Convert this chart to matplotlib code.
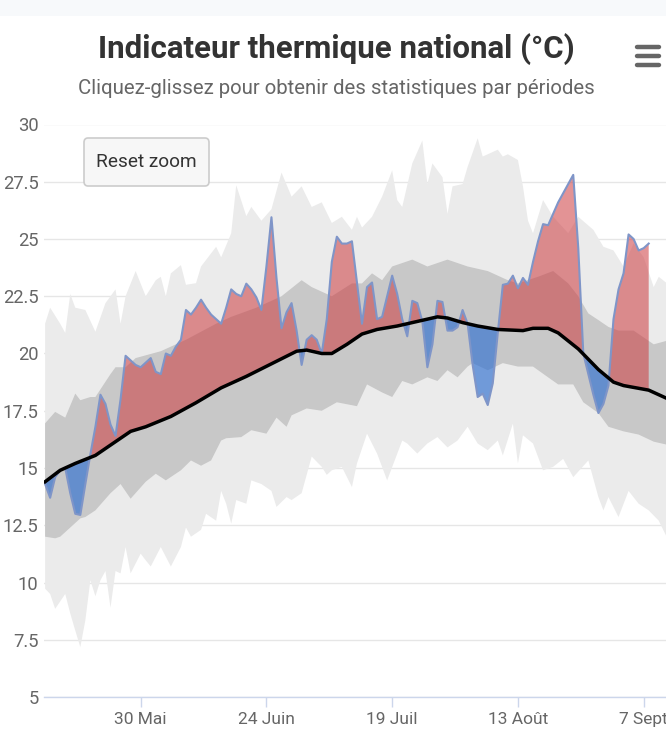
import numpy as np
import matplotlib.pyplot as plt
from matplotlib.patches import FancyBboxPatch, Rectangle

plt.rcParams['font.family'] = ['Roboto', 'DejaVu Sans']

# day 0 = 11 May
tick_days = [19, 44, 69, 94, 119]
tick_labels = ['30 Mai', '24 Juin', '19 Juil', '13 Août', '7 Sept']
y_ticks = [5, 7.5, 10, 12.5, 15, 17.5, 20, 22.5, 25, 27.5, 30]

# record max (upper edge of light band)
rmax_days = [0, 1, 3, 4, 5, 6, 8, 10, 12, 14, 15, 16, 18, 20, 22, 23, 24, 25, 27, 28,
             30, 31, 34, 35, 37, 38, 40, 41, 43, 45, 47, 49, 51, 53, 55, 57, 59, 61, 62, 63,
             65, 67, 69, 70, 71, 73, 75, 76, 77, 79, 80, 81, 83, 84, 86, 87, 88, 90, 91, 92,
             94, 95, 96, 97, 99, 101, 104, 106, 109, 111, 113, 115, 117, 119, 121, 122, 124]
rmax_vals = [21.3, 22.0, 21.3, 20.9, 22.6, 22.0, 21.9, 20.95, 22.2, 22.8, 21.3, 22.5, 23.6, 22.5,
             23.2, 23.35, 22.5, 23.5, 23.86, 23.0, 23.07, 23.8, 24.66, 24.2, 25.25, 27.35, 26.0,
             26.4, 25.8, 26.3, 27.9, 26.85, 27.3, 26.4, 26.6, 25.7, 25.97, 25.4, 25.97, 25.5,
             25.97, 26.85, 28.0, 26.7, 26.4, 28.3, 29.3, 27.4, 28.3, 27.7, 26.1, 27.3, 27.4,
             28.15, 29.4, 28.6, 28.7, 28.9, 28.6, 28.7, 28.45, 27.3, 25.8, 25.25, 26.7, 25.97,
             25.25, 25.97, 25.4, 24.66, 24.5, 23.8, 24.8, 24.2, 22.9, 23.35, 23.0]

# record min (lower edge of light band)
rmin_days = [0, 1, 2, 4, 5, 6, 7, 8, 9, 10, 11, 12, 13, 14, 15, 16, 17, 19, 20, 21, 23, 25,
             27, 28, 29, 31, 32, 34, 35, 36, 37, 38, 40, 41, 43, 45, 46, 48, 49, 51, 53, 55,
             56, 57, 59, 61, 62, 64, 66, 68, 71, 72, 74, 76, 78, 80, 82, 84, 86, 88, 90, 91,
             93, 94, 95, 97, 99, 101, 103, 105, 108, 110, 111, 112, 114, 116, 118, 120, 122, 124]
rmin_vals = [9.73, 9.5, 8.85, 9.5, 8.65, 7.9, 7.18, 8.35, 10.1, 9.4, 10.1, 10.5, 8.9, 10.5,
             10.4, 11.55, 10.4, 11.26, 10.97, 10.7, 11.55, 10.7, 11.55, 12.4, 12.0, 12.3, 13.0,
             12.7, 14.0, 13.44, 12.57, 13.6, 13.44, 14.46, 14.3, 14.0, 13.3, 13.73, 13.6, 13.9,
             15.5, 15.05, 14.7, 14.9, 15.05, 14.17, 15.2, 16.5, 15.63, 14.46, 16.2, 16.07,
             15.63, 16.07, 16.35, 15.9, 16.2, 16.8, 16.07, 15.78, 16.2, 15.55, 16.94, 15.2,
             16.43, 16.07, 14.9, 15.05, 15.4, 14.6, 15.33, 13.73, 13.15, 13.73, 12.86, 14.0,
             13.44, 13.15, 12.7, 11.8]

# upper quantile (dark band)
qhi_days = [0, 2, 4, 6, 7, 9, 10, 13, 14, 16, 18, 23, 28, 34, 37, 42, 47, 51, 53, 57, 61, 63,
            65, 67, 69, 73, 76, 80, 84, 88, 92, 94, 98, 101, 104, 106, 108, 110, 112, 114,
            117, 119, 121, 124]
qhi_vals = [16.95, 17.45, 17.2, 18.25, 17.96, 18.1, 18.1, 19.1, 19.4, 19.4, 19.8, 20.1, 20.6,
            21.3, 21.6, 22.0, 22.5, 23.2, 22.9, 22.5, 23.06, 23.06, 23.5, 23.2, 23.8, 24.1,
            23.8, 24.1, 23.8, 23.6, 23.2, 23.06, 23.35, 23.6, 23.06, 22.5, 21.75, 21.46,
            21.16, 21.0, 21.0, 20.7, 20.4, 20.58]

# lower quantile (dark band)
qlo_days = [0, 2, 3, 5, 7, 8, 10, 13, 15, 17, 20, 22, 24, 27, 29, 31, 33, 35, 36, 39, 41, 44,
            46, 48, 49, 52, 55, 58, 62, 64, 67, 69, 71, 73, 76, 78, 80, 82, 84, 85, 88, 91,
            94, 97, 100, 102, 105, 107, 110, 112, 115, 118, 121, 124]
qlo_vals = [12.0, 11.93, 12.0, 12.4, 12.8, 12.86, 13.15, 13.9, 14.3, 13.66, 14.4, 14.75, 14.46,
            14.9, 15.33, 15.1, 15.33, 16.2, 16.3, 16.35, 16.65, 16.5, 17.2, 16.8, 17.3, 17.6,
            17.5, 17.87, 17.7, 18.65, 18.3, 18.1, 18.8, 18.65, 18.96, 18.8, 19.27, 18.96,
            19.43, 19.58, 19.27, 19.58, 19.43, 19.43, 18.96, 18.65, 18.65, 17.87, 17.4, 16.8,
            16.6, 16.46, 16.15, 16.0]

# normal
norm_days = [0, 3, 6, 10, 13, 17, 20, 25, 30, 35, 40, 45, 50, 52, 55, 57, 60, 63, 66, 70, 75,
             78, 80, 83, 86, 90, 95, 97, 100, 102, 104, 106, 108, 110, 113, 115, 120, 124]
norm_vals = [14.4, 14.9, 15.2, 15.55, 16.0, 16.6, 16.8, 17.25, 17.85, 18.5, 19.0, 19.55, 20.1,
             20.15, 20.0, 20.0, 20.4, 20.85, 21.05, 21.2, 21.45, 21.6, 21.55, 21.35, 21.2,
             21.05, 21.0, 21.1, 21.1, 20.9, 20.55, 20.2, 19.75, 19.3, 18.75, 18.6, 18.4, 18.0]

# observed national thermal indicator, daily
obs_vals = [14.3, 13.7, 14.6, 14.9, 15.0, 13.9, 13.0, 12.95, 14.3, 15.6,
            16.8, 18.2, 17.8, 16.9, 16.4, 18.0, 19.9, 19.7, 19.5, 19.4,
            19.6, 19.8, 19.2, 19.1, 20.0, 19.9, 20.3, 20.6, 21.9, 21.7,
            22.0, 22.35, 22.0, 21.7, 21.5, 21.3, 22.0, 22.8, 22.6, 22.5,
            23.05, 22.8, 22.45, 21.9, 23.8, 25.95, 23.3, 21.1, 21.8, 22.2,
            21.0, 19.5, 20.6, 20.8, 20.6, 20.0, 21.5, 24.0, 25.1, 24.8,
            24.8, 24.9, 23.1, 21.3, 22.9, 23.1, 21.5, 21.6, 22.5, 23.4,
            22.6, 21.5, 20.75, 22.3, 22.2, 21.4, 19.4, 20.4, 22.3, 22.25,
            21.0, 21.0, 21.15, 21.9, 21.3, 19.5, 18.1, 18.25, 17.75, 18.7,
            20.9, 23.0, 23.05, 23.4, 22.85, 23.3, 23.0, 24.0, 24.9, 25.65,
            25.6, 26.1, 26.6, 27.0, 27.4, 27.8, 24.6, 20.0, 19.1, 18.2,
            17.4, 17.8, 18.6, 21.5, 22.8, 23.5, 25.2, 25.0, 24.5, 24.6, 24.8]
obs_days = np.arange(len(obs_vals))

fig = plt.figure(figsize=(6.66, 7.5), dpi=100)
fig.patch.set_facecolor('white')

# faint strip at the top of the screenshot
fig.patches.append(Rectangle((0, 1 - 16 / 750), 1, 16 / 750, transform=fig.transFigure,
                             facecolor='#f7f9fb', edgecolor='none'))

ax = fig.add_axes([44 / 666, 1 - 697 / 750, 622 / 666, (697 - 124.5) / 750])

# bands
ax.fill(np.r_[rmax_days, rmin_days[::-1]], np.r_[rmax_vals, rmin_vals[::-1]],
        color='#ebebeb', lw=0, zorder=1)
ax.fill(np.r_[qhi_days, qlo_days[::-1]], np.r_[qhi_vals, qlo_vals[::-1]],
        color='#c8c8c8', lw=0, zorder=2)

# anomaly fills
obs = np.array(obs_vals)
norm_i = np.interp(obs_days, norm_days, norm_vals)
ax.fill_between(obs_days, obs, norm_i, where=obs >= norm_i, interpolate=True,
                color='#cc3a3f', alpha=0.55, lw=0, zorder=3)
ax.fill_between(obs_days, obs, norm_i, where=obs <= norm_i, interpolate=True,
                color='#2f6fd0', alpha=0.65, lw=0, zorder=3)
ax.plot(obs_days, obs, color='#7f95c8', lw=1.5, zorder=4)
ax.plot(norm_days, norm_vals, color='black', lw=2.5, zorder=5)

ax.set_xlim(-0.22, 123.44)
ax.set_ylim(5, 30)
ax.set_yticks(y_ticks)
ax.set_yticklabels(['5', '7.5', '10', '12.5', '15', '17.5', '20', '22.5', '25', '27.5', '30'])
ax.set_xticks(tick_days)
ax.set_xticklabels(tick_labels)
ax.grid(axis='y', color='#e6e6e6', lw=1, zorder=0)
ax.set_axisbelow(True)
for s in ['top', 'right', 'left']:
    ax.spines[s].set_visible(False)
ax.spines['bottom'].set_color('#ccd6eb')
ax.spines['bottom'].set_linewidth(1)
ax.tick_params(axis='y', length=0, pad=4, labelsize=13.2, labelcolor='#666666')
ax.tick_params(axis='x', direction='out', length=7, width=1, color='#ccd6eb', pad=4,
               labelsize=12.5, labelcolor='#666666')
ax.set_facecolor('none')

# title and subtitle
fig.text(336 / 666, 1 - 49 / 750, 'Indicateur thermique national (°C)', ha='center',
         va='center', fontsize=22.5, fontweight='bold', color='#333333')
fig.text(336 / 666, 1 - 88 / 750, 'Cliquez-glissez pour obtenir des statistiques par périodes',
         ha='center', va='center', fontsize=14.7, color='#666666')

# menu icon
for yb in [47, 56, 65]:
    fig.add_artist(plt.Line2D([637 / 666, 659 / 666], [1 - yb / 750, 1 - yb / 750],
                              transform=fig.transFigure, color='#666666', lw=3.2,
                              solid_capstyle='round'))

# reset zoom button
btn = FancyBboxPatch((84 / 666, 1 - 186 / 750), 125 / 666, 48 / 750,
                     boxstyle='round,pad=0,rounding_size=0.006', transform=fig.transFigure,
                     facecolor='#f7f7f7', edgecolor='#cccccc', lw=1.2, zorder=10)
fig.patches.append(btn)
fig.text(146 / 666, 1 - 162 / 750, 'Reset zoom', ha='center', va='center', fontsize=13.7,
         color='#333333', zorder=11)

fig.savefig('out.png', dpi=100)
